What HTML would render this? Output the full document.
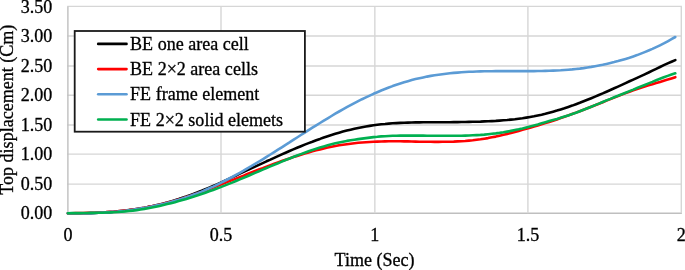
<!DOCTYPE html>
<html><head><meta charset="utf-8"><title>chart</title>
<style>
html,body{margin:0;padding:0;background:#fff;}
body{width:685px;height:270px;overflow:hidden;font-family:"Liberation Serif",serif;}
body{position:relative;}
svg{display:block;position:absolute;left:0;top:0;}
svg.tx{will-change:transform;}
</style></head><body>
<svg width="685" height="270" viewBox="0 0 685 270">
<rect x="0" y="0" width="685" height="270" fill="#ffffff"/>
<g fill="none" stroke-width="1.4">
<line x1="67.25" y1="6.40" x2="681.95" y2="6.40" stroke="#d6d6d6"/>
<line x1="67.25" y1="36.00" x2="681.95" y2="36.00" stroke="#d6d6d6"/>
<line x1="67.25" y1="66.00" x2="681.95" y2="66.00" stroke="#d6d6d6"/>
<line x1="67.25" y1="95.30" x2="681.95" y2="95.30" stroke="#d6d6d6"/>
<line x1="67.25" y1="125.00" x2="681.95" y2="125.00" stroke="#d6d6d6"/>
<line x1="67.25" y1="154.10" x2="681.95" y2="154.10" stroke="#d6d6d6"/>
<line x1="67.25" y1="184.10" x2="681.95" y2="184.10" stroke="#d6d6d6"/>
<line x1="67.25" y1="213.20" x2="681.95" y2="213.20" stroke="#bfbfbf"/>
<line x1="67.90" y1="6.40" x2="67.90" y2="213.20" stroke="#bfbfbf"/>
<line x1="221.00" y1="6.40" x2="221.00" y2="213.20" stroke="#d6d6d6"/>
<line x1="374.85" y1="6.40" x2="374.85" y2="213.20" stroke="#d6d6d6"/>
<line x1="527.90" y1="6.40" x2="527.90" y2="213.20" stroke="#d6d6d6"/>
<line x1="681.30" y1="6.40" x2="681.30" y2="213.20" stroke="#d6d6d6"/>
</g>
<g fill="none" stroke-width="2.6" stroke-linecap="round" stroke-linejoin="round">
<path d="M67.9,213.2 L71.7,213.2 L75.5,213.2 L79.4,213.2 L83.2,213.2 L87.0,213.2 L90.8,213.1 L94.6,213.0 L98.5,212.8 L102.3,212.6 L106.1,212.4 L109.9,212.1 L113.7,211.8 L117.6,211.4 L121.4,211.0 L125.2,210.6 L129.0,210.1 L132.8,209.6 L136.7,209.0 L140.5,208.4 L144.3,207.7 L148.1,206.9 L151.9,206.2 L155.8,205.3 L159.6,204.4 L163.4,203.5 L167.2,202.5 L171.0,201.4 L174.9,200.2 L178.7,199.1 L182.5,197.8 L186.3,196.5 L190.1,195.1 L194.0,193.7 L197.8,192.3 L201.6,190.8 L205.4,189.2 L209.2,187.6 L213.1,186.0 L216.9,184.4 L220.7,182.7 L224.5,180.9 L228.3,179.2 L232.2,177.4 L236.0,175.6 L239.8,173.7 L243.6,171.9 L247.4,170.1 L251.3,168.3 L255.1,166.6 L258.9,164.8 L262.7,163.1 L266.5,161.3 L270.4,159.6 L274.2,157.8 L278.0,156.1 L281.8,154.4 L285.6,152.7 L289.5,151.0 L293.3,149.4 L297.1,147.8 L300.9,146.2 L304.7,144.6 L308.6,143.1 L312.4,141.7 L316.2,140.2 L320.0,138.9 L323.8,137.5 L327.7,136.2 L331.5,135.0 L335.3,133.8 L339.1,132.7 L342.9,131.6 L346.8,130.6 L350.6,129.7 L354.4,128.8 L358.2,128.0 L362.0,127.2 L365.9,126.5 L369.7,125.9 L373.5,125.3 L377.3,124.8 L381.2,124.3 L385.0,124.0 L388.8,123.6 L392.6,123.3 L396.4,123.1 L400.3,122.9 L404.1,122.7 L407.9,122.6 L411.7,122.5 L415.5,122.4 L419.4,122.4 L423.2,122.3 L427.0,122.3 L430.8,122.3 L434.6,122.3 L438.5,122.2 L442.3,122.2 L446.1,122.2 L449.9,122.2 L453.7,122.1 L457.6,122.1 L461.4,122.0 L465.2,122.0 L469.0,121.9 L472.8,121.8 L476.7,121.7 L480.5,121.6 L484.3,121.4 L488.1,121.3 L491.9,121.1 L495.8,120.9 L499.6,120.6 L503.4,120.3 L507.2,120.0 L511.0,119.6 L514.9,119.2 L518.7,118.7 L522.5,118.2 L526.3,117.6 L530.1,117.0 L534.0,116.3 L537.8,115.5 L541.6,114.7 L545.4,113.8 L549.2,112.8 L553.1,111.7 L556.9,110.6 L560.7,109.4 L564.5,108.2 L568.3,106.9 L572.2,105.6 L576.0,104.2 L579.8,102.8 L583.6,101.3 L587.4,99.8 L591.3,98.2 L595.1,96.6 L598.9,95.0 L602.7,93.4 L606.5,91.7 L610.4,90.0 L614.2,88.3 L618.0,86.6 L621.8,84.9 L625.6,83.1 L629.5,81.3 L633.3,79.6 L637.1,77.8 L640.9,76.1 L644.7,74.3 L648.6,72.5 L652.4,70.6 L656.2,68.8 L660.0,67.0 L663.8,65.2 L667.7,63.4 L671.5,61.7 L675.3,60.1" stroke="#000000"/>
<path d="M67.9,213.2 L71.7,213.2 L75.5,213.1 L79.4,213.1 L83.2,213.0 L87.0,212.9 L90.8,212.8 L94.6,212.7 L98.5,212.5 L102.3,212.3 L106.1,212.1 L109.9,211.8 L113.7,211.6 L117.6,211.3 L121.4,210.9 L125.2,210.5 L129.0,210.1 L132.8,209.6 L136.7,209.0 L140.5,208.5 L144.3,207.8 L148.1,207.1 L151.9,206.4 L155.8,205.6 L159.6,204.7 L163.4,203.8 L167.2,202.8 L171.0,201.8 L174.9,200.7 L178.7,199.5 L182.5,198.4 L186.3,197.1 L190.1,195.9 L194.0,194.6 L197.8,193.2 L201.6,191.9 L205.4,190.5 L209.2,189.0 L213.1,187.6 L216.9,186.1 L220.7,184.6 L224.5,183.1 L228.3,181.6 L232.2,180.1 L236.0,178.6 L239.8,177.1 L243.6,175.6 L247.4,174.0 L251.3,172.5 L255.1,171.0 L258.9,169.5 L262.7,168.1 L266.5,166.6 L270.4,165.2 L274.2,163.8 L278.0,162.4 L281.8,161.0 L285.6,159.7 L289.5,158.4 L293.3,157.1 L297.1,155.9 L300.9,154.7 L304.7,153.5 L308.6,152.4 L312.4,151.3 L316.2,150.3 L320.0,149.4 L323.8,148.4 L327.7,147.6 L331.5,146.8 L335.3,146.0 L339.1,145.3 L342.9,144.7 L346.8,144.2 L350.6,143.7 L354.4,143.2 L358.2,142.8 L362.0,142.5 L365.9,142.2 L369.7,142.0 L373.5,141.8 L377.3,141.6 L381.2,141.5 L385.0,141.4 L388.8,141.3 L392.6,141.3 L396.4,141.3 L400.3,141.3 L404.1,141.4 L407.9,141.4 L411.7,141.5 L415.5,141.6 L419.4,141.7 L423.2,141.7 L427.0,141.8 L430.8,141.8 L434.6,141.9 L438.5,141.9 L442.3,141.8 L446.1,141.8 L449.9,141.7 L453.7,141.6 L457.6,141.4 L461.4,141.2 L465.2,141.0 L469.0,140.6 L472.8,140.3 L476.7,139.8 L480.5,139.3 L484.3,138.7 L488.1,138.1 L491.9,137.3 L495.8,136.6 L499.6,135.7 L503.4,134.8 L507.2,133.9 L511.0,132.9 L514.9,131.9 L518.7,130.9 L522.5,129.8 L526.3,128.8 L530.1,127.7 L534.0,126.6 L537.8,125.4 L541.6,124.3 L545.4,123.1 L549.2,121.9 L553.1,120.7 L556.9,119.4 L560.7,118.1 L564.5,116.8 L568.3,115.4 L572.2,114.0 L576.0,112.6 L579.8,111.2 L583.6,109.7 L587.4,108.2 L591.3,106.7 L595.1,105.2 L598.9,103.7 L602.7,102.2 L606.5,100.6 L610.4,99.1 L614.2,97.6 L618.0,96.1 L621.8,94.6 L625.6,93.1 L629.5,91.7 L633.3,90.3 L637.1,89.0 L640.9,87.7 L644.7,86.5 L648.6,85.3 L652.4,84.2 L656.2,83.0 L660.0,81.9 L663.8,80.7 L667.7,79.6 L671.5,78.4 L675.3,77.2" stroke="#ff0000"/>
<path d="M67.9,213.2 L71.7,213.2 L75.5,213.2 L79.4,213.2 L83.2,213.2 L87.0,213.2 L90.8,213.1 L94.6,213.0 L98.5,212.8 L102.3,212.6 L106.1,212.4 L109.9,212.1 L113.7,211.8 L117.6,211.5 L121.4,211.1 L125.2,210.7 L129.0,210.2 L132.8,209.7 L136.7,209.1 L140.5,208.5 L144.3,207.9 L148.1,207.2 L151.9,206.4 L155.8,205.6 L159.6,204.8 L163.4,203.9 L167.2,202.9 L171.0,201.9 L174.9,200.8 L178.7,199.7 L182.5,198.5 L186.3,197.2 L190.1,195.9 L194.0,194.5 L197.8,193.1 L201.6,191.6 L205.4,190.0 L209.2,188.3 L213.1,186.6 L216.9,184.8 L220.7,182.9 L224.5,181.0 L228.3,179.0 L232.2,177.0 L236.0,174.9 L239.8,172.8 L243.6,170.7 L247.4,168.4 L251.3,166.2 L255.1,163.9 L258.9,161.6 L262.7,159.3 L266.5,156.9 L270.4,154.5 L274.2,152.1 L278.0,149.7 L281.8,147.3 L285.6,144.8 L289.5,142.4 L293.3,139.9 L297.1,137.5 L300.9,135.0 L304.7,132.6 L308.6,130.1 L312.4,127.7 L316.2,125.3 L320.0,123.0 L323.8,120.6 L327.7,118.3 L331.5,116.0 L335.3,113.7 L339.1,111.5 L342.9,109.4 L346.8,107.2 L350.6,105.1 L354.4,103.1 L358.2,101.1 L362.0,99.2 L365.9,97.4 L369.7,95.6 L373.5,93.8 L377.3,92.2 L381.2,90.5 L385.0,89.0 L388.8,87.5 L392.6,86.1 L396.4,84.8 L400.3,83.5 L404.1,82.3 L407.9,81.2 L411.7,80.1 L415.5,79.1 L419.4,78.2 L423.2,77.4 L427.0,76.6 L430.8,75.9 L434.6,75.3 L438.5,74.7 L442.3,74.2 L446.1,73.7 L449.9,73.3 L453.7,72.9 L457.6,72.6 L461.4,72.3 L465.2,72.0 L469.0,71.8 L472.8,71.7 L476.7,71.5 L480.5,71.4 L484.3,71.3 L488.1,71.2 L491.9,71.2 L495.8,71.1 L499.6,71.1 L503.4,71.1 L507.2,71.1 L511.0,71.1 L514.9,71.1 L518.7,71.1 L522.5,71.1 L526.3,71.1 L530.1,71.1 L534.0,71.1 L537.8,71.0 L541.6,71.0 L545.4,70.9 L549.2,70.8 L553.1,70.6 L556.9,70.5 L560.7,70.3 L564.5,70.0 L568.3,69.7 L572.2,69.4 L576.0,69.0 L579.8,68.6 L583.6,68.1 L587.4,67.5 L591.3,66.9 L595.1,66.2 L598.9,65.5 L602.7,64.8 L606.5,63.9 L610.4,63.0 L614.2,62.1 L618.0,61.1 L621.8,60.0 L625.6,58.9 L629.5,57.7 L633.3,56.4 L637.1,55.1 L640.9,53.6 L644.7,52.1 L648.6,50.5 L652.4,48.9 L656.2,47.1 L660.0,45.3 L663.8,43.4 L667.7,41.3 L671.5,39.2 L675.3,37.0" stroke="#5b9bd5"/>
<path d="M67.9,213.2 L71.7,213.1 L75.5,213.1 L79.4,213.1 L83.2,213.0 L87.0,213.0 L90.8,212.9 L94.6,212.9 L98.5,212.8 L102.3,212.7 L106.1,212.5 L109.9,212.4 L113.7,212.2 L117.6,212.0 L121.4,211.7 L125.2,211.4 L129.0,211.0 L132.8,210.6 L136.7,210.1 L140.5,209.5 L144.3,208.9 L148.1,208.2 L151.9,207.5 L155.8,206.7 L159.6,205.9 L163.4,205.0 L167.2,204.1 L171.0,203.2 L174.9,202.2 L178.7,201.1 L182.5,200.0 L186.3,198.9 L190.1,197.7 L194.0,196.5 L197.8,195.3 L201.6,194.0 L205.4,192.7 L209.2,191.3 L213.1,190.0 L216.9,188.5 L220.7,187.1 L224.5,185.6 L228.3,184.1 L232.2,182.6 L236.0,181.0 L239.8,179.4 L243.6,177.8 L247.4,176.2 L251.3,174.5 L255.1,172.9 L258.9,171.3 L262.7,169.6 L266.5,168.0 L270.4,166.4 L274.2,164.8 L278.0,163.2 L281.8,161.6 L285.6,160.0 L289.5,158.5 L293.3,157.0 L297.1,155.5 L300.9,154.1 L304.7,152.7 L308.6,151.3 L312.4,150.0 L316.2,148.8 L320.0,147.6 L323.8,146.4 L327.7,145.3 L331.5,144.3 L335.3,143.3 L339.1,142.5 L342.9,141.7 L346.8,140.9 L350.6,140.3 L354.4,139.7 L358.2,139.1 L362.0,138.6 L365.9,138.1 L369.7,137.6 L373.5,137.1 L377.3,136.8 L381.2,136.4 L385.0,136.2 L388.8,136.0 L392.6,135.8 L396.4,135.7 L400.3,135.6 L404.1,135.6 L407.9,135.6 L411.7,135.5 L415.5,135.6 L419.4,135.6 L423.2,135.6 L427.0,135.7 L430.8,135.7 L434.6,135.7 L438.5,135.8 L442.3,135.8 L446.1,135.8 L449.9,135.8 L453.7,135.8 L457.6,135.8 L461.4,135.7 L465.2,135.6 L469.0,135.5 L472.8,135.3 L476.7,135.1 L480.5,134.9 L484.3,134.6 L488.1,134.2 L491.9,133.8 L495.8,133.4 L499.6,132.9 L503.4,132.3 L507.2,131.6 L511.0,130.9 L514.9,130.1 L518.7,129.3 L522.5,128.4 L526.3,127.4 L530.1,126.4 L534.0,125.4 L537.8,124.4 L541.6,123.3 L545.4,122.2 L549.2,121.1 L553.1,120.0 L556.9,118.9 L560.7,117.7 L564.5,116.6 L568.3,115.4 L572.2,114.1 L576.0,112.8 L579.8,111.3 L583.6,109.8 L587.4,108.3 L591.3,106.7 L595.1,105.1 L598.9,103.6 L602.7,102.0 L606.5,100.4 L610.4,98.9 L614.2,97.3 L618.0,95.8 L621.8,94.2 L625.6,92.7 L629.5,91.1 L633.3,89.6 L637.1,88.0 L640.9,86.5 L644.7,85.0 L648.6,83.4 L652.4,81.9 L656.2,80.3 L660.0,78.8 L663.8,77.3 L667.7,75.9 L671.5,74.5 L675.3,73.3" stroke="#00b050"/>
</g>
<rect x="74.7" y="31.0" width="230.2" height="100.7" fill="#ffffff" stroke="#1a1a1a" stroke-width="1.8"/>
<g fill="none" stroke-width="2.6" stroke-linecap="round">
<line x1="98.2" y1="43.90" x2="126.5" y2="43.90" stroke="#000000"/>
<line x1="98.2" y1="69.10" x2="126.5" y2="69.10" stroke="#ff0000"/>
<line x1="98.2" y1="94.30" x2="126.5" y2="94.30" stroke="#5b9bd5"/>
<line x1="98.2" y1="119.50" x2="126.5" y2="119.50" stroke="#00b050"/>
</g>
</svg>
<svg class="tx" width="685" height="270" viewBox="0 0 685 270">
<g font-family="'Liberation Serif', serif" font-size="18.05" fill="#000000" stroke="#000000" stroke-width="0.30">
<text x="52.4" y="12.50" text-anchor="end">3.50</text>
<text x="52.4" y="42.10" text-anchor="end">3.00</text>
<text x="52.4" y="72.10" text-anchor="end">2.50</text>
<text x="52.4" y="101.40" text-anchor="end">2.00</text>
<text x="52.4" y="131.10" text-anchor="end">1.50</text>
<text x="52.4" y="160.20" text-anchor="end">1.00</text>
<text x="52.4" y="190.20" text-anchor="end">0.50</text>
<text x="52.4" y="219.30" text-anchor="end">0.00</text>
<text x="67.90" y="240.5" text-anchor="middle">0</text>
<text x="221.00" y="240.5" text-anchor="middle">0.5</text>
<text x="374.85" y="240.5" text-anchor="middle">1</text>
<text x="527.90" y="240.5" text-anchor="middle">1.5</text>
<text x="681.30" y="240.5" text-anchor="middle">2</text>
<text x="374.5" y="266.4" text-anchor="middle">Time (Sec)</text>
<text transform="translate(13.1,194.7) rotate(-90)">Top displacement (Cm)</text>
<text x="130.1" y="49.80">BE one area cell</text>
<text x="130.1" y="75.00">BE 2×2 area cells</text>
<text x="130.1" y="100.30">FE frame element</text>
<text x="130.1" y="125.60">FE 2×2 solid elemets</text>
</g>
</svg>
</body></html>
